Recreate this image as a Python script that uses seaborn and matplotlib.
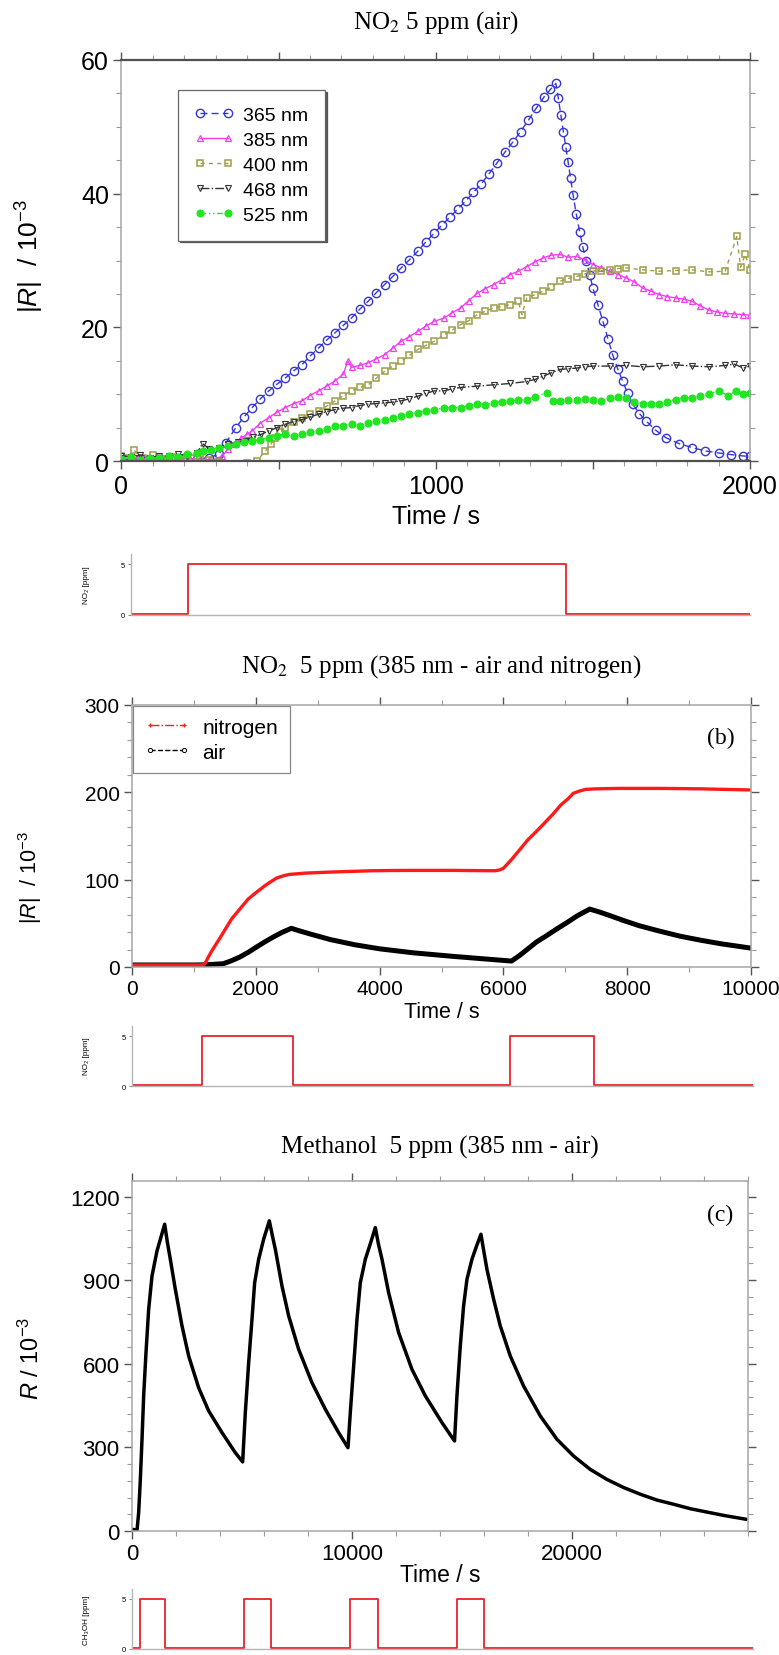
import numpy as np
import pandas as pd
import matplotlib
matplotlib.use("Agg")
import matplotlib.pyplot as plt
import seaborn as sns
from matplotlib.ticker import MultipleLocator, FixedLocator, FixedFormatter
from matplotlib.lines import Line2D
from matplotlib.font_manager import FontProperties

# ---------------- data: panel (a) NO2 5 ppm (air) ----------------
t365 = [0, 40, 80, 120, 160, 200, 240, 280, 310, 332, 364, 390, 416, 442, 469, 495, 521, 548, 574, 600,
        627, 653, 680, 706, 732, 758, 785, 811, 837, 863, 890, 916, 943, 969, 995, 1020, 1045, 1070, 1095,
        1120, 1145, 1170, 1195, 1220, 1245, 1270, 1295, 1320, 1345, 1365, 1382, 1390, 1398, 1406, 1414,
        1421, 1429, 1437, 1447, 1458, 1468, 1479, 1490, 1500, 1516, 1532, 1548, 1563, 1579, 1595, 1611,
        1627, 1648, 1669, 1700, 1732, 1774, 1816, 1858, 1900, 1940, 1979, 2000]
v365 = [0.2, 0.3, 0.1, 0.3, 0.2, 0.4, 0.3, 0.5, 1.0, 2.7, 5.0, 6.6, 8.0, 9.3, 10.5, 11.5, 12.4, 13.5, 14.4, 15.7,
        16.9, 18.1, 19.2, 20.3, 21.4, 22.7, 23.9, 25.2, 26.4, 27.6, 28.9, 30.1, 31.4, 32.8, 34.1, 35.3, 36.5,
        37.7, 38.9, 40.2, 41.5, 43.0, 44.6, 46.2, 47.7, 49.3, 51.0, 52.8, 54.5, 55.6, 56.5, 54.3, 51.8, 49.3,
        47.0, 44.8, 42.3, 39.8, 37.0, 34.3, 32.0, 29.9, 27.9, 25.9, 23.4, 20.9, 18.3, 15.9, 13.8, 11.9, 10.1,
        8.5, 7.1, 6.0, 4.6, 3.5, 2.6, 2.0, 1.5, 1.2, 0.95, 0.75, 0.7]

t385 = [0, 50, 100, 150, 200, 250, 280, 300, 320, 340, 360, 380, 400, 416, 440, 469, 495, 521, 548, 574, 600,
        627, 653, 680, 706, 720, 732, 758, 785, 811, 837, 863, 890, 916, 943, 969, 995, 1027, 1053, 1079,
        1105, 1132, 1158, 1184, 1210, 1237, 1263, 1290, 1316, 1342, 1368, 1395, 1421, 1448, 1474, 1500,
        1527, 1553, 1580, 1606, 1632, 1658, 1685, 1711, 1737, 1763, 1790, 1816, 1842, 1869, 1895, 1921,
        1950, 1979, 2000]
v385 = [0.3, 0.5, 0.2, 0.6, 0.4, 0.3, 0.2, 0.2, 0.8, 1.8, 2.6, 3.4, 4.0, 4.5, 5.6, 6.5, 7.3, 8.0, 8.6, 9.0, 9.8,
        10.5, 11.2, 12.0, 13.0, 15.0, 14.0, 14.3, 14.7, 15.3, 15.9, 16.9, 17.9, 18.6, 19.4, 20.2, 20.9, 21.4,
        22.2, 22.9, 24.0, 25.1, 25.8, 26.4, 27.1, 27.9, 28.4, 29.1, 29.8, 30.4, 30.8, 30.9, 30.5, 30.6, 30.1,
        29.4, 28.9, 28.4, 27.9, 27.4, 26.8, 25.9, 25.4, 24.9, 24.6, 24.4, 24.2, 23.9, 23.2, 22.6, 22.3, 22.1,
        22.0, 21.9, 21.8]

t400 = [0, 20, 40, 70, 100, 130, 160, 190, 220, 250, 280, 310, 340, 370, 400, 430, 458, 475, 490, 505, 521,
        548, 574, 600, 627, 653, 680, 706, 732, 758, 785, 811, 837, 863, 890, 916, 943, 969, 995, 1027, 1053,
        1079, 1105, 1132, 1158, 1184, 1210, 1237, 1263, 1274, 1290, 1316, 1342, 1368, 1395, 1421, 1448, 1474,
        1500, 1527, 1553, 1580, 1606, 1658, 1711, 1763, 1816, 1869, 1921, 1958, 1970, 1985, 2000]
v400 = [0.8, 0.5, 1.6, 0.4, 0.9, 0.3, 0.6, 0.2, 0.5, 0.3, 0.1, -0.2, -0.4, -0.5, -0.3, 0.0, 1.5, 2.5, 3.5, 4.3,
        5.0, 5.8, 6.5, 7.0, 7.5, 8.2, 9.0, 9.8, 10.5, 11.0, 11.4, 12.4, 13.4, 14.2, 14.9, 15.8, 16.7, 17.3, 17.9,
        18.9, 19.6, 20.4, 21.0, 21.9, 22.4, 22.9, 23.1, 23.4, 23.9, 21.9, 24.4, 24.9, 25.4, 26.0, 26.9, 27.3,
        27.6, 28.0, 28.4, 28.5, 28.6, 28.8, 28.9, 28.6, 28.4, 28.5, 28.6, 28.3, 28.4, 33.6, 29.0, 30.9, 28.6]

t468 = [0, 30, 60, 90, 120, 150, 180, 210, 240, 258, 280, 310, 340, 370, 395, 420, 445, 469, 495, 521, 548, 574,
        600, 627, 653, 680, 706, 732, 758, 785, 811, 837, 863, 890, 916, 943, 969, 995, 1027, 1053, 1079, 1132,
        1184, 1237, 1290, 1316, 1342, 1368, 1395, 1421, 1448, 1474, 1500, 1553, 1606, 1658, 1711, 1763, 1816,
        1869, 1921, 1950, 1979, 2000]
v468 = [0.8, 0.6, 0.9, 0.5, 0.8, 0.7, 1.0, 0.8, 1.2, 2.6, 1.8, 2.0, 2.6, 2.8, 3.0, 3.6, 4.0, 4.5, 5.0, 5.5, 5.9,
        6.2, 6.6, 7.0, 7.4, 7.7, 7.9, 8.0, 8.3, 8.5, 8.6, 8.7, 8.8, 9.0, 9.3, 9.7, 10.1, 10.5, 10.5, 10.8, 11.0,
        11.2, 11.4, 11.6, 11.9, 12.2, 12.7, 13.2, 13.7, 13.8, 13.9, 14.1, 14.2, 14.2, 14.3, 14.1, 14.2, 14.4,
        14.2, 14.1, 14.3, 14.5, 13.9, 14.2]

t525 = [0, 30, 60, 90, 120, 150, 180, 210, 240, 258, 285, 311, 338, 364, 390, 416, 442, 469, 495, 521, 548, 574,
        600, 627, 653, 680, 706, 732, 758, 785, 811, 837, 863, 890, 916, 943, 969, 995, 1027, 1053, 1079, 1105,
        1132, 1158, 1184, 1210, 1237, 1263, 1290, 1316, 1353, 1374, 1395, 1421, 1448, 1474, 1500, 1527, 1553,
        1580, 1606, 1632, 1658, 1685, 1711, 1737, 1763, 1790, 1816, 1842, 1869, 1900, 1930, 1955, 1979, 2000]
v525 = [0.3, 0.6, 0.2, 0.5, 0.4, 0.7, 0.6, 1.0, 1.2, 1.5, 1.7, 2.0, 2.2, 2.5, 2.8, 3.0, 3.2, 3.5, 3.8, 4.0, 3.7,
        4.0, 4.3, 4.5, 4.8, 5.2, 5.3, 5.5, 5.2, 5.7, 6.0, 6.2, 6.5, 6.7, 7.0, 7.2, 7.5, 7.7, 7.9, 8.0, 8.0, 8.3,
        8.5, 8.4, 8.7, 8.9, 9.0, 9.1, 9.2, 9.6, 10.2, 9.0, 9.0, 9.2, 9.1, 9.3, 9.1, 9.0, 9.4, 9.6, 9.5, 8.9,
        8.6, 8.5, 8.5, 8.9, 9.2, 9.5, 9.5, 9.7, 10.0, 10.5, 9.8, 10.4, 10.0, 10.2]

wavelength_labels = ["365 nm", "385 nm", "400 nm", "468 nm", "525 nm"]
a_on, a_off = [210], [1415]

# ---------------- data: panel (b) NO2 385 nm air / nitrogen ----------------
tN = [0, 500, 1000, 1150, 1177, 1277, 1410, 1510, 1609, 1750, 1875, 2000, 2141, 2250, 2341, 2450, 2540, 2800,
      3205, 3600, 3870, 4200, 4535, 5200, 5865, 5932, 6000, 6131, 6260, 6397, 6530, 6663, 6800, 6929, 7050,
      7129, 7230, 7328, 7500, 7860, 8525, 9190, 10000]
vN = [2.3, 2.3, 2.3, 2.4, 3.8, 17, 32, 43.6, 55, 67, 77.7, 85, 92.8, 98, 102, 104.5, 106, 107.5, 108.7, 109.6,
      110.2, 110.5, 110.6, 110.6, 110.2, 111, 113, 123, 134, 145.8, 155, 164.8, 175, 185.6, 193, 198.9, 201.5,
      203.4, 204, 204.5, 204.5, 204, 202.7]
tA = [0, 500, 1000, 1200, 1476, 1600, 1742, 1870, 2008, 2140, 2274, 2420, 2574, 2700, 2873, 3205, 3604, 4003,
      4535, 5200, 5865, 6131, 6264, 6400, 6530, 6700, 6863, 7030, 7195, 7395, 7550, 7727, 7950, 8193, 8500,
      8858, 9200, 9523, 10000]
vA = [2.3, 2.3, 2.3, 2.5, 3.8, 7, 11.4, 16.5, 22.7, 28.5, 34, 39.5, 44.3, 41.5, 37.9, 31.4, 25.4, 20.8, 16.3,
      12.1, 8.3, 6.8, 13.3, 21, 28.4, 36, 43.6, 51, 58.7, 66.3, 63, 58.7, 53, 47.3, 41.5, 35.2, 30.5, 26.5, 21.6]
b_on, b_off = [1130, 6090], [2600, 7435]

# ---------------- data: panel (c) methanol 385 nm air ----------------
tC = [0, 100, 227, 303, 379, 455, 530, 636, 758, 909, 1136, 1300, 1485, 1600, 1742, 1970, 2273, 2576, 3030,
      3485, 4091, 4697, 5030, 5151, 5303, 5454, 5575, 5757, 5984, 6242, 6380, 6515, 6818, 7121, 7575, 8181,
      8787, 9393, 9817, 9923, 10075, 10227, 10378, 10605, 10850, 11060, 11200, 11363, 11666, 12120, 12726,
      13332, 14090, 14660, 14770, 14922, 15073, 15225, 15452, 15650, 15861, 16000, 16134, 16437, 16740,
      17195, 17801, 18558, 19316, 20073, 20831, 21588, 22346, 23103, 23861, 24618, 25376, 26133, 26891, 27921]
vC = [6, 5, 2, 66, 185, 329, 485, 640, 796, 915, 1005, 1050, 1101, 1040, 975, 867, 736, 628, 514, 431, 353, 281,
      248, 425, 604, 760, 891, 975, 1047, 1113, 1060, 1011, 879, 772, 652, 532, 437, 353, 299, 425, 592, 760,
      891, 975, 1035, 1089, 1030, 975, 855, 712, 580, 485, 389, 323, 485, 664, 808, 903, 975, 1020, 1065, 1000,
      939, 832, 736, 628, 520, 413, 329, 269, 221, 185, 156, 132, 111, 96, 80, 68, 56, 42]
c_on, c_off = [380, 5040, 9840, 14650], [1470, 6260, 11100, 15880]

# ---------------- style ----------------
sns.set_theme(style="white")
plt.rcParams["font.family"] = ["Liberation Sans", "DejaVu Sans"]
plt.rcParams["mathtext.fontset"] = "custom"
plt.rcParams["mathtext.rm"] = "Liberation Sans"
plt.rcParams["mathtext.it"] = "Liberation Sans:italic"
plt.rcParams["mathtext.bf"] = "Liberation Sans:bold"
plt.rcParams["text.color"] = "black"
plt.rcParams["axes.labelcolor"] = "black"
plt.rcParams["xtick.color"] = "black"
plt.rcParams["ytick.color"] = "black"

W, H = 779, 1656
fig = plt.figure(figsize=(W / 100, H / 100), dpi=100)
fig.patch.set_facecolor("white")


def rect(l, r, t, b):
    return [l / W, 1 - b / H, (r - l) / W, (b - t) / H]


SPINE = "#a6a6a6"


def style_axes(ax, size, dark_tb=False):
    for s in ["left", "right", "top", "bottom"]:
        ax.spines[s].set_color(SPINE)
        ax.spines[s].set_linewidth(1.1)
    if dark_tb:
        for s in ["top", "bottom"]:
            ax.spines[s].set_color("#505050")
            ax.spines[s].set_linewidth(1.6)
    ax.tick_params(which="both", direction="out", top=True, right=True, bottom=True, left=True,
                   labeltop=False, labelright=False, labelsize=size)
    ax.tick_params(which="major", length=6, width=1.0, color="#555555", pad=3)
    ax.tick_params(which="minor", length=3.5, width=0.8, color="#9a9a9a")
    ax.set_facecolor("white")
    ax.grid(False)


def step_series(on, off, x0, x1):
    xs, ys = [x0], [0.1]
    for a, b in zip(on, off):
        xs += [a, a, b, b]
        ys += [0.1, 5, 5, 0.1]
    xs.append(x1)
    ys.append(0.1)
    return xs, ys


def inset(rc, on, off, xlim, ylabel, label_xy):
    axi = fig.add_axes(rc)
    xs, ys = step_series(on, off, xlim[0], xlim[1])
    sns.lineplot(x=xs, y=ys, ax=axi, color="#e8232b", linewidth=1.3, estimator=None, sort=False)
    axi.set_xlim(*xlim)
    axi.set_ylim(0, 6)
    for s in ["top", "right"]:
        axi.spines[s].set_visible(False)
    for s in ["left", "bottom"]:
        axi.spines[s].set_color("#b5b5b5")
        axi.spines[s].set_linewidth(1.0)
    axi.set_xticks([])
    axi.set_yticks([0, 5])
    axi.tick_params(axis="y", which="major", left=True, length=2.5, width=0.7, color="#888888",
                    labelsize=5.5, pad=2)
    axi.set_facecolor("white")
    axi.grid(False)
    fig.text(label_xy[0] / W, 1 - label_xy[1] / H, ylabel, rotation=90, ha="center", va="center",
             fontsize=5.8, family=["Liberation Sans", "DejaVu Sans"])
    return axi


serif = ["Liberation Serif", "DejaVu Serif"]

# ================= panel (a) =================
ax1 = fig.add_axes(rect(121.5, 750, 61, 462))
series_a = [
    (t365, v365, dict(color="#3636d6", linestyle=(0, (5, 3)), marker="o", markersize=6,
                      markerfacecolor="none", markeredgecolor="#3636d6", markeredgewidth=1.0)),
    (t385, v385, dict(color="#f03ef0", linestyle="-", marker="^", markersize=5,
                      markerfacecolor="none", markeredgecolor="#f03ef0", markeredgewidth=0.9)),
    (t400, v400, dict(color="#9d9d4a", linestyle=(0, (3, 3)), marker="s", markersize=5,
                      markerfacecolor="none", markeredgecolor="#9d9d4a", markeredgewidth=1.1)),
    (t468, v468, dict(color="#333333", linestyle="-.", marker="v", markersize=5,
                      markerfacecolor="none", markeredgecolor="#333333", markeredgewidth=0.8)),
    (t525, v525, dict(color="#1fe61f", linestyle=(0, (4, 2, 1, 2, 1, 2)), marker="o", markersize=5,
                      markerfacecolor="#1fe61f", markeredgecolor="#1fe61f", markeredgewidth=0.8)),
]
for (tx, vy, kw), lab in zip(series_a, wavelength_labels):
    sns.lineplot(x=tx, y=vy, ax=ax1, linewidth=1.0, label=lab, estimator=None, sort=False, **kw)

ax1.set_xlim(0, 2000)
ax1.set_ylim(0, 60)
style_axes(ax1, 18, dark_tb=True)
ax1.xaxis.set_major_locator(FixedLocator([0, 500, 1000, 1500, 2000]))
ax1.xaxis.set_major_formatter(FixedFormatter(["0", "", "1000", "", "2000"]))
ax1.xaxis.set_minor_locator(MultipleLocator(100))
ax1.yaxis.set_major_locator(MultipleLocator(20))
ax1.yaxis.set_minor_locator(MultipleLocator(5))
ax1.set_xlabel("Time / s", fontsize=18)
ax1.xaxis.set_label_coords(0.5, -0.137)
ax1.xaxis.label.set_va("center")
ax1.set_ylabel(r"|$\mathit{R}$|  / 10$^{-3}$", fontsize=19)
ax1.yaxis.set_label_coords(-0.146, 0.514)
ax1.yaxis.label.set_va("center")

leg = ax1.legend(loc="upper left", bbox_to_anchor=(0.09, 0.925), borderaxespad=0, frameon=True,
                 fancybox=False, edgecolor="#666666", framealpha=1, numpoints=2,
                 prop=FontProperties(family=["Liberation Sans Narrow", "Liberation Sans"], size=14),
                 handlelength=2.0, handletextpad=0.5, labelspacing=0.38, borderpad=0.85,
                 shadow={"ox": 1.2, "oy": -1.2, "color": "#555555", "alpha": 1})
leg.get_frame().set_linewidth(0.9)

fig.text(436 / W, 1 - 23 / H, r"NO$_2$ 5 ppm (air)", ha="center", va="center", fontsize=18,
         family=serif, math_fontfamily="stix")

inset(rect(131, 750, 555, 616), a_on, a_off, (30, 2000), "NO\u2082 [ppm]", (87, 585))

# ================= panel (b) =================
ax2 = fig.add_axes(rect(132, 751, 706, 968))
sns.lineplot(x=tA, y=vA, ax=ax2, color="black", linewidth=3.6, estimator=None, sort=False)
sns.lineplot(x=tN, y=vN, ax=ax2, color="#ff1a1a", linewidth=2.4, estimator=None, sort=False)
ax2.set_xlim(0, 10000)
ax2.set_ylim(0, 300)
style_axes(ax2, 15)
ax2.xaxis.set_major_locator(MultipleLocator(2000))
ax2.xaxis.set_minor_locator(MultipleLocator(1000))
ax2.yaxis.set_major_locator(MultipleLocator(100))
ax2.yaxis.set_minor_locator(MultipleLocator(20))
ax2.set_xlabel("Time / s", fontsize=15.5)
ax2.xaxis.set_label_coords(0.5, -0.168)
ax2.xaxis.label.set_va("center")
ax2.set_ylabel(r"|$\mathit{R}$|  / 10$^{-3}$", fontsize=15.5)
ax2.yaxis.set_label_coords(-0.165, 0.344)
ax2.yaxis.label.set_va("center")

hN = Line2D([], [], color="#ff1a1a", linestyle="-.", linewidth=1.0, marker="+", markersize=3.5)
hA = Line2D([], [], color="black", linestyle="--", linewidth=1.0, marker="o", markersize=3,
            markerfacecolor="white", markeredgewidth=0.7)
leg2 = ax2.legend([hN, hA], ["nitrogen", "air"], loc="upper left", bbox_to_anchor=(0.001, 0.996),
                  borderaxespad=0, frameon=True, fancybox=False, edgecolor="#888888", framealpha=1,
                  numpoints=2, prop=FontProperties(family=["Liberation Sans"], size=15),
                  handlelength=2.2, handletextpad=0.6, labelspacing=0.3, borderpad=0.55)
leg2.get_frame().set_linewidth(0.9)
fig.text(721 / W, 1 - 738 / H, "(b)", ha="center", va="center", fontsize=17, family=serif)
fig.text(441 / W, 1 - 667 / H, r"NO$_2$  5 ppm (385 nm - air and nitrogen)", ha="center", va="center",
         fontsize=18, family=serif, math_fontfamily="stix")

inset(rect(132, 753, 1027, 1087), b_on, b_off, (0, 10000), "NO\u2082 [ppm]", (87, 1056))

# ================= panel (c) =================
ax3 = fig.add_axes(rect(132, 748, 1182, 1532))
sns.lineplot(x=tC, y=vC, ax=ax3, color="black", linewidth=2.5, estimator=None, sort=False)
ax3.set_xlim(0, 28000)
ax3.set_ylim(0, 1256)
style_axes(ax3, 16)
ax3.xaxis.set_major_locator(MultipleLocator(10000))
ax3.xaxis.set_minor_locator(MultipleLocator(2000))
ax3.yaxis.set_major_locator(MultipleLocator(300))
ax3.yaxis.set_minor_locator(MultipleLocator(60))
ax3.set_xlabel("Time / s", fontsize=16.5)
ax3.xaxis.set_label_coords(0.5, -0.123)
ax3.xaxis.label.set_va("center")
ax3.set_ylabel(r"$\mathit{R}$ / 10$^{-3}$", fontsize=17)
ax3.yaxis.set_label_coords(-0.164, 0.497)
ax3.yaxis.label.set_va("center")
fig.text(720 / W, 1 - 1215 / H, "(c)", ha="center", va="center", fontsize=17, family=serif)
fig.text(440 / W, 1 - 1147 / H, "Methanol  5 ppm (385 nm - air)", ha="center", va="center",
         fontsize=18, family=serif)

inset(rect(132, 753, 1590, 1650), c_on, c_off, (0, 28000), "CH\u2083OH [ppm]", (87, 1620))

fig.savefig("out.png", dpi=100, facecolor="white")
